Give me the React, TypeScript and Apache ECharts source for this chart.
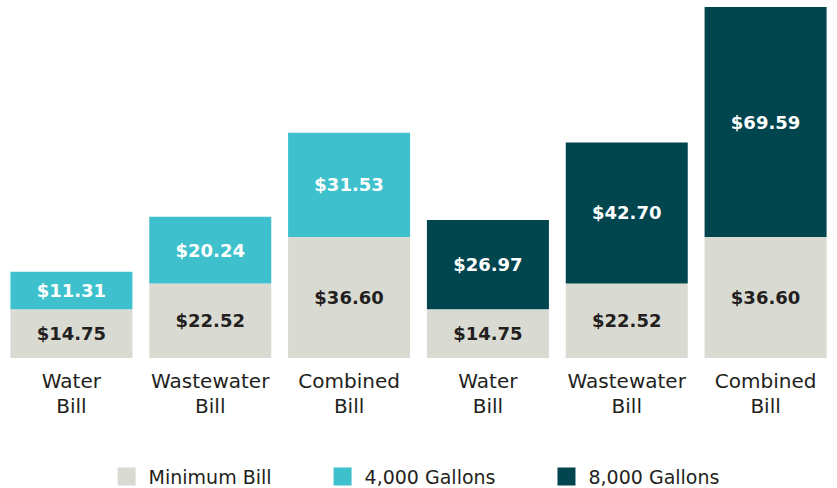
import React, { useEffect, useRef } from "react";
import * as echarts from "echarts";

const categories = ["Water\nBill", "Wastewater\nBill", "Combined\nBill", "Water\nBill", "Wastewater\nBill", "Combined\nBill"];
const minimumBill = [14.75, 22.52, 36.6, 14.75, 22.52, 36.6];
const gallons4000: (number | string)[] = [11.31, 20.24, 31.53, "-", "-", "-"];
const gallons8000: (number | string)[] = ["-", "-", "-", 26.97, 42.7, 69.59];
const legendNames = ["Minimum Bill", "4,000 Gallons", "8,000 Gallons"];

const FONT = "DejaVu Sans";

export default function App() {
  const ref = useRef<HTMLDivElement>(null);
  useEffect(() => {
    if (!ref.current) return;
    const chart = echarts.init(ref.current, null, { renderer: "svg" });
    const totals = minimumBill.map((v, i) => {
      const a = typeof gallons4000[i] === "number" ? (gallons4000[i] as number) : 0;
      const b = typeof gallons8000[i] === "number" ? (gallons8000[i] as number) : 0;
      return v + a + b;
    });
    const maxTotal = Math.max(...totals);
    const fmt = (p: any) => "$" + Number(p.value).toFixed(2);
    const labelStyle = (color: string) => ({
      show: true,
      position: "inside" as const,
      formatter: fmt,
      color,
      fontFamily: FONT,
      fontWeight: "bold" as const,
      fontSize: 18,
    });
    chart.setOption({
      animation: false,
      backgroundColor: "#ffffff",
      grid: { left: 2, right: 2, top: 7, bottom: 130, containLabel: false },
      legend: {
        left: "center",
        top: 467,
        padding: 0,
        itemWidth: 18,
        itemHeight: 18,
        itemGap: 62,
        icon: "rect",
        textStyle: { color: "#231f20", fontFamily: FONT, fontSize: 19, padding: [0, 0, 0, 8] },
        data: legendNames,
      },
      xAxis: {
        type: "category",
        data: categories,
        axisLine: { show: false },
        axisTick: { show: false },
        axisLabel: {
          margin: 10,
          color: "#231f20",
          fontFamily: FONT,
          fontSize: 20,
          lineHeight: 25,
          interval: 0,
        },
      },
      yAxis: {
        type: "value",
        min: 0,
        max: maxTotal,
        show: false,
        splitLine: { show: false },
      },
      series: [
        {
          name: legendNames[0],
          type: "bar",
          stack: "bill",
          barWidth: 122,
          data: minimumBill,
          itemStyle: { color: "#d9dbd3" },
          label: labelStyle("#231f20"),
        },
        {
          name: legendNames[1],
          type: "bar",
          stack: "bill",
          barWidth: 122,
          data: gallons4000,
          itemStyle: { color: "#3ec1cd" },
          label: labelStyle("#ffffff"),
        },
        {
          name: legendNames[2],
          type: "bar",
          stack: "bill",
          barWidth: 122,
          data: gallons8000,
          itemStyle: { color: "#01454f" },
          label: labelStyle("#ffffff"),
        },
      ],
    });
    return () => chart.dispose();
  }, []);
  return (
    <div
      ref={ref}
      style={{ position: "fixed", left: 0, top: 0, width: 837, height: 488 }}
    />
  );
}
